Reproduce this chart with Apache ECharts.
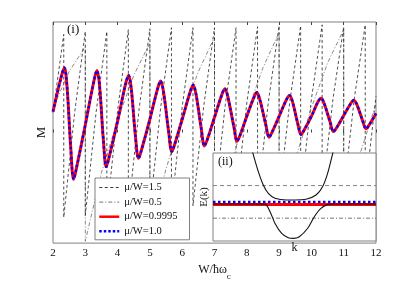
<!DOCTYPE html>
<html><head><meta charset="utf-8">
<script src="https://cdn.jsdelivr.net/npm/echarts@6/dist/echarts.min.js"></script>
<style>html,body{margin:0;padding:0;background:#fff}#c{width:415px;height:286px}</style>
</head><body><div id="c"></div>
<script>
// ---- main panel data (M in arbitrary units) ----
const xMin = 2, xMax = 12;
const xTickStep = 1;

// mu/W = 1.5 (dashed sawtooth)
const mu15X = [2.0, 2.333, 2.333, 2.667, 3.0, 3.0, 3.333, 3.667, 3.667, 4.0, 4.333, 4.333, 4.667, 5.0, 5.0, 5.333, 5.667, 5.667, 6.0, 6.333, 6.333, 6.667, 7.0, 7.0, 7.333, 7.667, 7.667, 8.0, 8.333, 8.333, 8.667, 9.0, 9.0, 9.333, 9.667, 9.667, 10.0, 10.333, 10.333, 10.667, 11.0, 11.0, 11.333, 11.667, 11.667, 12.0];
const mu15M = [0.21, 1.03, -0.89, 0.20, 1.06, -0.87, 0.21, 1.06, -0.85, 0.23, 1.08, -0.83, 0.25, 1.09, -0.81, 0.26, 1.10, -0.79, 0.27, 1.10, -0.77, 0.28, 1.10, -0.75, 0.29, 1.10, -0.73, 0.31, 1.11, -0.71, 0.32, 1.12, -0.69, 0.33, 1.12, -0.67, 0.35, 1.13, -0.65, 0.35, 1.11, -0.63, 0.37, 1.13, -0.61, 0.38];

// mu/W = 0.5 (dash-dot sawtooth)
const mu05X = [2.0, 2.5, 3.0, 3.0, 3.5, 4.0, 4.5, 5.0, 5.0, 5.5, 6.0, 6.5, 7.0, 7.0, 7.5, 8.0, 8.5, 9.0, 9.0, 9.5, 10.0, 10.5, 11.0, 11.0, 11.5, 12.0];
const mu05M = [0.26, 0.64, 0.90, -1.14, -0.42, 0.13, 0.60, 0.94, -1.08, -0.38, 0.16, 0.64, 1.00, -1.02, -0.33, 0.20, 0.68, 1.05, -0.97, -0.28, 0.26, 0.73, 1.08, -0.92, -0.23, 0.30];

// mu/W = 0.9995 and 1.0 (smooth oscillation)
const muSmoothX = [2.00, 2.25, 2.35, 2.43, 2.55, 2.64, 2.74, 3.00, 3.26, 3.36, 3.44, 3.56, 3.65, 3.75, 4.00, 4.24, 4.34, 4.42, 4.55, 4.65, 4.75, 5.00, 5.23, 5.33, 5.42, 5.58, 5.68, 5.78, 6.01, 6.24, 6.34, 6.43, 6.59, 6.69, 6.79, 7.00, 7.22, 7.32, 7.41, 7.60, 7.70, 7.80, 8.00, 8.21, 8.31, 8.40, 8.59, 8.69, 8.79, 9.00, 9.22, 9.32, 9.41, 9.58, 9.68, 9.78, 10.00, 10.20, 10.30, 10.39, 10.58, 10.68, 10.78, 11.00, 11.21, 11.31, 11.40, 11.59, 11.69, 11.79, 12.00];
const mu09995M = [0.22, 0.58, 0.68, 0.50, -0.16, -0.49, -0.35, 0.08, 0.53, 0.65, 0.50, -0.08, -0.36, -0.24, 0.12, 0.50, 0.60, 0.47, -0.03, -0.27, -0.17, 0.14, 0.45, 0.54, 0.43, 0.01, -0.20, -0.11, 0.15, 0.42, 0.50, 0.40, 0.04, -0.14, -0.06, 0.16, 0.39, 0.46, 0.38, 0.06, -0.09, -0.02, 0.17, 0.36, 0.42, 0.35, 0.08, -0.05, 0.01, 0.17, 0.34, 0.39, 0.33, 0.09, -0.02, 0.03, 0.17, 0.32, 0.36, 0.31, 0.11, 0.01, 0.05, 0.18, 0.30, 0.34, 0.30, 0.12, 0.04, 0.08, 0.20];
const mu10M    = [0.22, 0.58, 0.68, 0.50, -0.16, -0.49, -0.35, 0.08, 0.53, 0.65, 0.50, -0.08, -0.36, -0.24, 0.12, 0.50, 0.60, 0.47, -0.03, -0.27, -0.17, 0.14, 0.45, 0.54, 0.43, 0.01, -0.20, -0.11, 0.15, 0.42, 0.50, 0.40, 0.04, -0.14, -0.06, 0.16, 0.39, 0.46, 0.38, 0.06, -0.09, -0.02, 0.17, 0.36, 0.42, 0.35, 0.08, -0.05, 0.01, 0.17, 0.34, 0.39, 0.33, 0.09, -0.02, 0.03, 0.17, 0.32, 0.36, 0.31, 0.11, 0.01, 0.05, 0.18, 0.30, 0.34, 0.30, 0.12, 0.04, 0.08, 0.20];

const legendNames = ['μ/W=1.5', 'μ/W=0.5', 'μ/W=0.9995', 'μ/W=1.0'];

// ---- inset (ii) data: E(k) ----
const upperK = [-0.53, -0.51, -0.444, -0.383, -0.321, -0.239, -0.096, 0.0, 0.141, 0.264, 0.346, 0.407, 0.469, 0.49];
const upperE = [2.7, 2.49, 1.93, 1.52, 1.26, 1.11, 1.06, 1.06, 1.08, 1.21, 1.47, 1.88, 2.49, 2.7];
const lowerK = [-1.0, -0.45, -0.362, -0.30, -0.239, -0.157, -0.076, -0.015, 0.059, 0.162, 0.243, 0.325, 0.427, 0.52, 1.0];
const lowerE = [0.935, 0.935, 0.93, 0.70, 0.34, 0.036, -0.10, -0.12, -0.07, 0.19, 0.545, 0.80, 0.93, 0.935, 0.935];
const levelMu15 = 1.5, levelMu10 = 1.0, levelMu09995 = 0.92, levelMu05 = 0.5;
const insetKRange = [-1, 1];

const zip = (xs, ys) => xs.map((x, i) => [x, ys[i]]);
const F = '"Liberation Serif","Times New Roman",serif';
const chart = echarts.init(document.getElementById('c'), null, {renderer: 'canvas'});

const hline = (name, lvl, ls) => ({
  name, type: 'line', xAxisIndex: 2, yAxisIndex: 1, symbol: 'none', z: 12,
  data: [[insetKRange[0], lvl], [insetKRange[1], lvl]], lineStyle: ls, animation: false
});

const option = {
  animation: false,
  backgroundColor: '#fff',
  grid: [
    {left: 53, right: 39, top: 22, bottom: 32, show: true, borderColor: '#808080', borderWidth: 1, backgroundColor: 'transparent'},
    {left: 213, right: 39, top: 153, bottom: 45, show: true, borderColor: '#808080', borderWidth: 1, backgroundColor: '#fff', z: 10}
  ],
  xAxis: [
    {gridIndex: 0, type: 'value', min: xMin, max: xMax, interval: xTickStep,
     axisLine: {show: false}, axisTick: {inside: true, length: 3, lineStyle: {color: '#444'}},
     axisLabel: {fontFamily: F, fontSize: 11, color: '#111', margin: 5}, splitLine: {show: false},
     name: '{a|W/ħω}{b|c}', nameLocation: 'middle', nameGap: 12,
     nameTextStyle: {rich: {a: {fontFamily: F, fontSize: 12, color: '#111'}, b: {fontFamily: F, fontSize: 9, color: '#111', padding: [13, 0, 0, 0]}}}},
    {gridIndex: 0, type: 'value', position: 'top', min: xMin, max: xMax, interval: xTickStep,
     axisLine: {show: false}, axisTick: {inside: true, length: 3, lineStyle: {color: '#444'}},
     axisLabel: {show: false}, splitLine: {show: false}},
    {gridIndex: 1, type: 'value', min: insetKRange[0], max: insetKRange[1], z: 12,
     axisLine: {show: false}, axisTick: {show: false}, axisLabel: {show: false}, splitLine: {show: false},
     name: 'k', nameLocation: 'middle', nameGap: 1,
     nameTextStyle: {fontFamily: F, fontSize: 12, color: '#111'}}
  ],
  yAxis: [
    {gridIndex: 0, type: 'value', min: -1.16, max: 1.16,
     axisLine: {show: false}, axisTick: {show: false}, axisLabel: {show: false}, splitLine: {show: false},
     name: 'M', nameLocation: 'middle', nameGap: 5, nameRotate: 90,
     nameTextStyle: {fontFamily: F, fontSize: 13, color: '#111'}},
    {gridIndex: 1, type: 'value', min: -0.2, max: 2.5, z: 12,
     axisLine: {show: false}, axisTick: {show: false}, axisLabel: {show: false}, splitLine: {show: false},
     name: 'E(k)', nameLocation: 'middle', nameGap: 3, nameRotate: 90,
     nameTextStyle: {fontFamily: F, fontSize: 11, color: '#111'}}
  ],
  legend: {
    orient: 'vertical', left: 95, top: 178, z: 20,
    itemWidth: 20, itemHeight: 10, itemGap: 3.6,
    padding: [4, 12, 3, 3],
    backgroundColor: '#fff', borderColor: '#808080', borderWidth: 1, borderRadius: 0,
    textStyle: {fontFamily: F, fontSize: 10.5, color: '#111'},
    selectedMode: false,
    itemStyle: {opacity: 0},
    data: [
      {name: legendNames[0], itemStyle: {opacity: 0}, lineStyle: {width: 0.9, type: [3, 2.5], color: '#222'}},
      {name: legendNames[1], itemStyle: {opacity: 0}, lineStyle: {width: 0.8, type: [4, 2, 1, 2], color: '#555'}},
      {name: legendNames[2], itemStyle: {opacity: 0}, lineStyle: {width: 2.5, color: '#ff0000'}},
      {name: legendNames[3], itemStyle: {opacity: 0}, lineStyle: {width: 2.5, type: [2.5, 2], color: '#0000ff'}}
    ]
  },
  graphic: [
    {type: 'text', left: 67, top: 23, z: 30, style: {text: '(i)', font: '13px ' + F, fill: '#111'}},
    {type: 'text', left: 218, top: 156, z: 30, style: {text: '(ii)', font: '12px ' + F, fill: '#111'}}
  ],
  series: [
    {name: legendNames[1], type: 'line', xAxisIndex: 0, yAxisIndex: 0, symbol: 'none', z: 2,
     data: zip(mu05X, mu05M), lineStyle: {color: '#555', width: 0.7, type: [4, 2, 1, 2]}},
    {name: legendNames[0], type: 'line', xAxisIndex: 0, yAxisIndex: 0, symbol: 'none', z: 2,
     data: zip(mu15X, mu15M), lineStyle: {color: '#222', width: 0.8, type: [3, 2.5]}},
    {name: legendNames[2], type: 'line', xAxisIndex: 0, yAxisIndex: 0, symbol: 'none', z: 3,
     smooth: 0.35, data: zip(muSmoothX, mu09995M), lineStyle: {color: '#ff0000', width: 3}},
    {name: legendNames[3], type: 'line', xAxisIndex: 0, yAxisIndex: 0, symbol: 'none', z: 4,
     smooth: 0.35, data: zip(muSmoothX, mu10M), lineStyle: {color: '#0000ff', width: 2.4, type: [2.5, 2.5]}},
    hline('h15', levelMu15, {color: '#777', width: 0.9, type: [4, 3]}),
    hline('h05', levelMu05, {color: '#555', width: 0.8, type: [4, 2, 1, 2]}),
    hline('h09995', levelMu09995, {color: '#ff0000', width: 3}),
    {name: 'lower', type: 'line', xAxisIndex: 2, yAxisIndex: 1, symbol: 'none', z: 13, smooth: 0.3,
     data: zip(lowerK, lowerE), lineStyle: {color: '#111', width: 1.1}},
    {name: 'upper', type: 'line', xAxisIndex: 2, yAxisIndex: 1, symbol: 'none', z: 13, smooth: 0.3,
     data: zip(upperK, upperE), lineStyle: {color: '#111', width: 1.1}},
    hline('h10', levelMu10, {color: '#0000ff', width: 2.4, type: [2.5, 2.5]})
  ]
};
chart.setOption(option);
</script></body></html>
